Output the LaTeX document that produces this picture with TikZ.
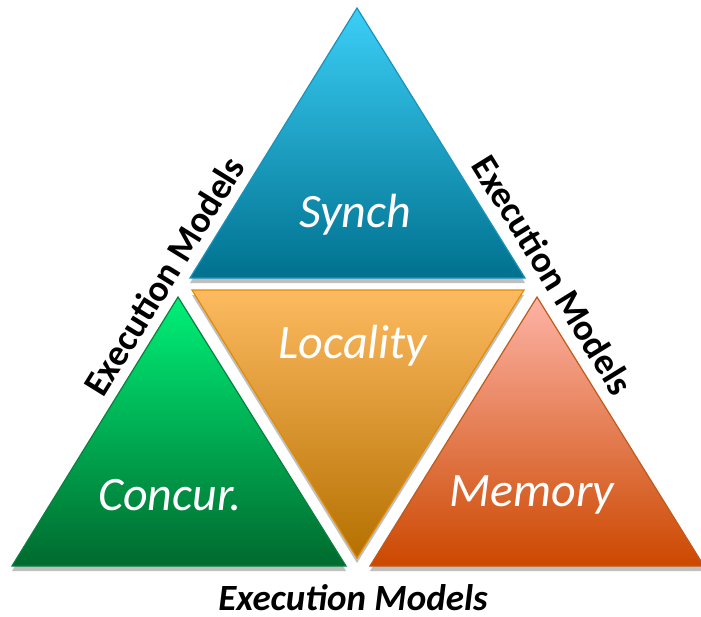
\documentclass[tikz,border=0pt]{standalone}
\usepackage{fontspec}
\setmainfont{Carlito}
\usetikzlibrary{shadows}
\tikzset{
  tri/.style={line width=1.2pt, line join=miter, shading=axis, shading angle=0,
    drop shadow={shadow xshift=0pt, shadow yshift=-5pt, opacity=0.25, fill=black}},
  lbl/.style={text=white, font=\itshape\fontsize{48}{48}\selectfont, inner sep=0pt},
  em/.style={text=black, font=\bfseries\fontsize{37}{37}\selectfont, inner sep=0pt},
}
\definecolor{syT}{HTML}{3CCFF7}
\definecolor{syB}{HTML}{00718F}
\definecolor{syL}{HTML}{1A92BA}
\definecolor{loT}{HTML}{FDBA60}
\definecolor{loB}{HTML}{B57000}
\definecolor{loL}{HTML}{E48B00}
\definecolor{coT}{HTML}{00F078}
\definecolor{coB}{HTML}{006A2E}
\definecolor{coL}{HTML}{0A8040}
\definecolor{meT}{HTML}{FDB3A6}
\definecolor{meB}{HTML}{CC4800}
\definecolor{meL}{HTML}{C05A1A}
\begin{document}
\begin{tikzpicture}[x=1pt,y=-1pt]
\useasboundingbox (0,0) rectangle (701,616);
% Synch
\path[tri, top color=syT, bottom color=syB, draw=syL] (357,8) -- (525,278) -- (190,278) -- cycle;
% Locality
\path[tri, top color=loT, bottom color=loB, draw=loL] (192,290) -- (524,290) -- (357,558) -- cycle;
% Concur
\path[tri, top color=coT, bottom color=coB, draw=coL] (178,297) -- (346,566) -- (12,566) -- cycle;
% Memory
\path[tri, top color=meT, bottom color=meB, draw=meL] (537,297) -- (704,566) -- (370,566) -- cycle;

\node[lbl] (synch) at (355,215) {Synch};
\node[lbl] (loc) at (353,346) {Locality};
\node[lbl] (conc) at (170,495) {Concur.};
\node[lbl] (mem) at (532,495) {Memory};

\node[em, rotate=58.3] (emL) at (164,276) {Execution Models};
\node[em, rotate=-58.3] (emR) at (553,275) {Execution Models};
\node[em, font=\bfseries\itshape\fontsize{37}{37}\selectfont, anchor=base] (emB) at (353,610) {Execution Models};
\end{tikzpicture}
\end{document}
